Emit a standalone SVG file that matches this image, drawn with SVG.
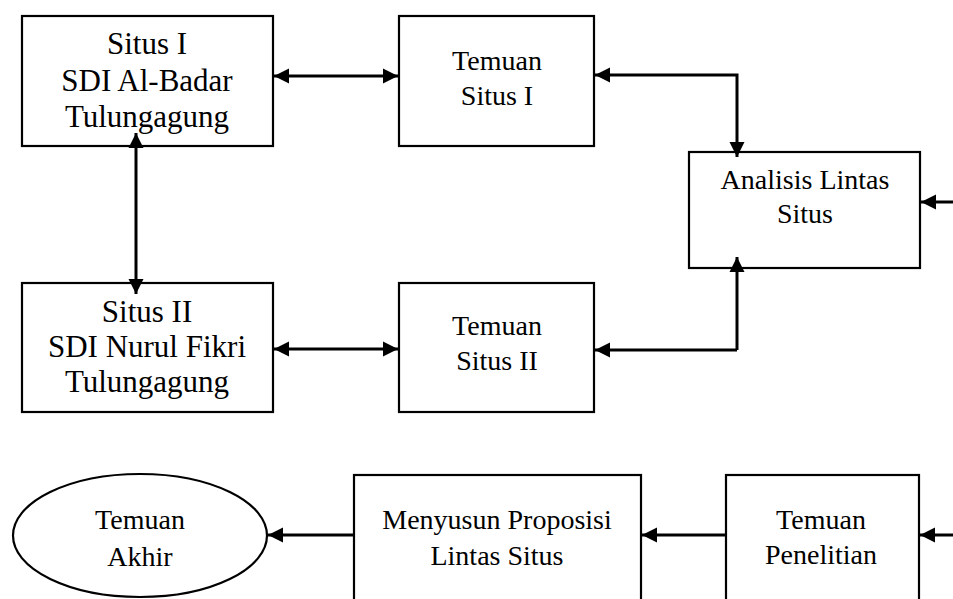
<svg xmlns="http://www.w3.org/2000/svg" width="953" height="599" viewBox="0 0 953 599">
<style>
.box{fill:#fff;stroke:#000;stroke-width:2.2}
.t{font-family:"Liberation Serif","Times New Roman",serif;fill:#000;text-anchor:middle}
.big{font-size:31px}
.n{font-size:28px}
.c{fill:none;stroke:#000;stroke-width:3}
</style>
<defs>
<marker id="ah" markerUnits="userSpaceOnUse" markerWidth="18" markerHeight="16" refX="15" refY="8" orient="auto-start-reverse">
<path d="M0,0.5 L15,8 L0,15.5 z" fill="#000"/>
</marker>
</defs>
<rect width="953" height="599" fill="#fff"/>
<g id="situs1">
<rect class="box" x="22" y="16" width="251" height="130"/>
<text class="t big" x="147" y="54">Situs I</text>
<text class="t big" x="147" y="90.5">SDI Al-Badar</text>
<text class="t big" x="147" y="127">Tulungagung</text>
</g>
<g id="temuan1">
<rect class="box" x="399" y="16" width="195" height="130"/>
<text class="t n" x="497" y="70">Temuan</text>
<text class="t n" x="497" y="105">Situs I</text>
</g>
<g id="analisis">
<rect class="box" x="689" y="152" width="231" height="116"/>
<text class="t n" x="805" y="189">Analisis Lintas</text>
<text class="t n" x="805" y="223">Situs</text>
</g>
<g id="situs2">
<rect class="box" x="22" y="283" width="251" height="129"/>
<text class="t big" x="147" y="322">Situs II</text>
<text class="t big" x="147" y="357">SDI Nurul Fikri</text>
<text class="t big" x="147" y="392">Tulungagung</text>
</g>
<g id="temuan2">
<rect class="box" x="399" y="283" width="195" height="129"/>
<text class="t n" x="497" y="335">Temuan</text>
<text class="t n" x="497" y="370">Situs II</text>
</g>
<g id="temuanAkhir">
<ellipse class="box" cx="140" cy="535.5" rx="127" ry="61.5"/>
<text class="t n" x="140" y="529">Temuan</text>
<text class="t n" x="140" y="566">Akhir</text>
</g>
<g id="menyusun">
<rect class="box" x="354" y="475" width="287" height="150"/>
<text class="t n" x="497" y="529">Menyusun Proposisi</text>
<text class="t n" x="497" y="565">Lintas Situs</text>
</g>
<g id="temuanPenelitian">
<rect class="box" x="726" y="475" width="193" height="150"/>
<text class="t n" x="821" y="529">Temuan</text>
<text class="t n" x="821" y="564">Penelitian</text>
</g>
<g id="connectors">
<line class="c" x1="274" y1="76" x2="398" y2="76" marker-start="url(#ah)" marker-end="url(#ah)"/>
<line class="c" x1="274" y1="349" x2="398" y2="349" marker-start="url(#ah)" marker-end="url(#ah)"/>
<line class="c" x1="136" y1="133" x2="136" y2="294" marker-start="url(#ah)" marker-end="url(#ah)"/>
<path class="c" d="M595,75 H737 V157" marker-start="url(#ah)" marker-end="url(#ah)"/>
<path class="c" d="M737,350 V257" marker-end="url(#ah)"/>
<path class="c" d="M737,350 H595" marker-end="url(#ah)"/>
<line class="c" x1="953" y1="202" x2="921" y2="202" marker-end="url(#ah)"/>
<line class="c" x1="726" y1="535" x2="642" y2="535" marker-end="url(#ah)"/>
<line class="c" x1="354" y1="535" x2="268" y2="535" marker-end="url(#ah)"/>
<line class="c" x1="953" y1="535" x2="920" y2="535" marker-end="url(#ah)"/>
</g>
</svg>
